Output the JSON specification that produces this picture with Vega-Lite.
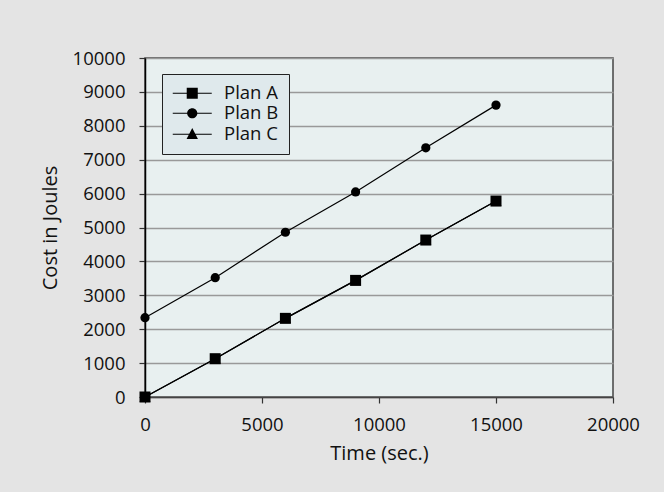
{
  "$schema": "https://vega.github.io/schema/vega-lite/v6.json",
  "width": 468,
  "height": 339,
  "autosize": {"type": "none"},
  "padding": {"left": 145, "top": 58, "right": 51, "bottom": 95},
  "background": "#e4e4e4",
  "config": {
    "view": {"fill": "#e8f0f0", "stroke": "#444444", "strokeWidth": 1.5},
    "font": "Open Sans",
    "axis": {
      "labelFont": "Open Sans",
      "labelFontSize": 18.5,
      "labelColor": "#111111",
      "titleFont": "Open Sans",
      "titleFontSize": 20,
      "titleFontWeight": "normal",
      "titleColor": "#111111",
      "tickColor": "#333333",
      "tickSize": 6,
      "tickWidth": 1.2,
      "domainWidth": 1.5
    }
  },
  "data": {
    "values": [
      {"plan": "Plan C", "time": 0, "cost": 0},
      {"plan": "Plan C", "time": 3000, "cost": 1130},
      {"plan": "Plan C", "time": 6000, "cost": 2320},
      {"plan": "Plan C", "time": 9000, "cost": 3440},
      {"plan": "Plan C", "time": 12000, "cost": 4630},
      {"plan": "Plan C", "time": 15000, "cost": 5780},
      {"plan": "Plan A", "time": 0, "cost": 0},
      {"plan": "Plan A", "time": 3000, "cost": 1130},
      {"plan": "Plan A", "time": 6000, "cost": 2320},
      {"plan": "Plan A", "time": 9000, "cost": 3440},
      {"plan": "Plan A", "time": 12000, "cost": 4630},
      {"plan": "Plan A", "time": 15000, "cost": 5780},
      {"plan": "Plan B", "time": 0, "cost": 2340},
      {"plan": "Plan B", "time": 3000, "cost": 3520},
      {"plan": "Plan B", "time": 6000, "cost": 4860},
      {"plan": "Plan B", "time": 9000, "cost": 6050},
      {"plan": "Plan B", "time": 12000, "cost": 7350},
      {"plan": "Plan B", "time": 15000, "cost": 8610}
    ]
  },
  "encoding": {
    "x": {
      "field": "time",
      "type": "quantitative",
      "scale": {"domain": [0, 20000], "nice": false},
      "axis": {
        "values": [0, 5000, 10000, 15000, 20000],
        "format": "d",
        "grid": false,
        "title": "Time (sec.)",
        "domainColor": "#444444",
        "labelPadding": 12,
        "titlePadding": 10,
        "labelFlush": false
      }
    },
    "y": {
      "field": "cost",
      "type": "quantitative",
      "scale": {"domain": [0, 10000], "nice": false},
      "axis": {
        "values": [0, 1000, 2000, 3000, 4000, 5000, 6000, 7000, 8000, 9000, 10000],
        "format": "d",
        "grid": true,
        "gridColor": "#999999",
        "gridWidth": 1.5,
        "gridOpacity": 1,
        "domainColor": "#000000",
        "title": "Cost in Joules",
        "labelPadding": 14,
        "titlePadding": 12
      }
    }
  },
  "layer": [
    {
      "mark": {"type": "line", "color": "#000000", "strokeWidth": 1.2},
      "encoding": {"detail": {"field": "plan", "type": "nominal"}}
    },
    {
      "transform": [{"filter": "datum.plan !== 'Plan B'"}],
      "mark": {"type": "point", "filled": true, "color": "#000000", "opacity": 1, "size": 121},
      "encoding": {
        "shape": {
          "field": "plan",
          "type": "nominal",
          "scale": {"domain": ["Plan A", "Plan B", "Plan C"], "range": ["square", "circle", "triangle-up"]},
          "legend": null
        }
      }
    },
    {
      "transform": [{"filter": "datum.plan === 'Plan B'"}],
      "mark": {"type": "point", "filled": true, "color": "#000000", "opacity": 1, "size": 85},
      "encoding": {
        "shape": {"field": "plan", "type": "nominal", "legend": null}
      }
    },
    {
      "transform": [{"filter": "false"}],
      "mark": {"type": "point", "filled": true, "color": "#000000", "opacity": 1, "size": 144},
      "encoding": {
        "shape": {
          "field": "plan",
          "type": "nominal",
          "scale": {
            "domain": ["Plan A", "Plan B", "Plan C"],
            "range": [
              "M-3.25,-0.1H3.25V0.1H-3.25ZM-0.92,-0.92H0.92V0.92H-0.92Z",
              "M-3.25,-0.1H3.25V0.1H-3.25ZM0.85,0A0.85,0.85,0,1,1,-0.85,0A0.85,0.85,0,1,1,0.85,0Z",
              "M-3.25,-0.1H3.25V0.1H-3.25ZM0,-1.05L0.95,0.8L-0.95,0.8Z"
            ]
          },
          "legend": {
            "title": null,
            "orient": "none",
            "legendX": 17,
            "legendY": 16,
            "fillColor": "#dfe9ec",
            "strokeColor": "#222222",
            "padding": 10,
            "labelFont": "Open Sans",
            "labelFontSize": 18.5,
            "labelColor": "#111111",
            "labelOffset": 22.5,
            "symbolOffset": 11,
            "symbolSize": 144,
            "rowPadding": 1
          }
        }
      }
    }
  ],
  "resolve": {"scale": {"shape": "independent"}, "legend": {"shape": "independent"}}
}
